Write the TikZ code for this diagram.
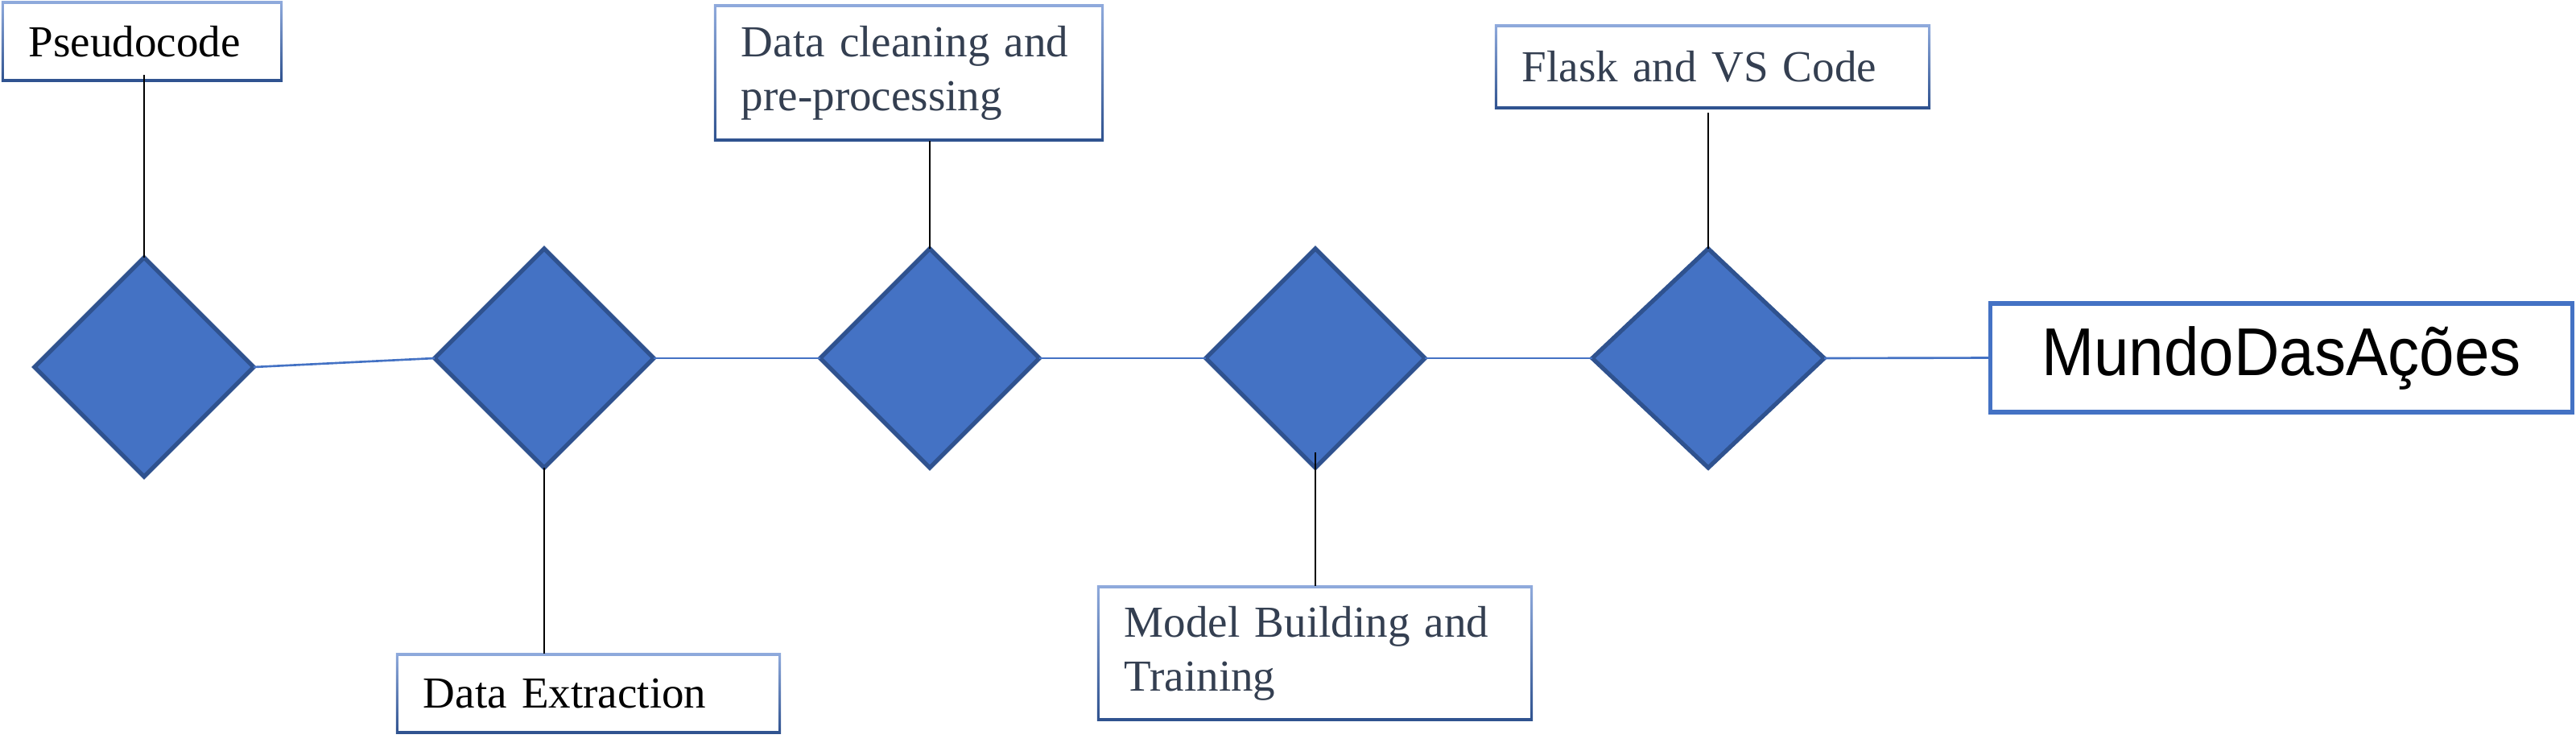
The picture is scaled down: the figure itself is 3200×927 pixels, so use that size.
\documentclass[tikz,border=0pt]{standalone}
\usepackage{fontspec}
\setmainfont{Liberation Serif}
\newfontfamily\arialf{Liberation Sans}
\usetikzlibrary{shapes.geometric}
\definecolor{gtop}{HTML}{8FAADC}
\definecolor{gmid}{HTML}{4472C4}
\definecolor{gbot}{HTML}{2F528F}
\definecolor{dfill}{HTML}{4472C4}
\definecolor{dline}{HTML}{2F528F}
\definecolor{slate}{HTML}{343F51}
\tikzset{
  dia/.style={diamond, draw=dline, fill=dfill, line width=1.5pt, inner sep=0pt, outer sep=0pt,
    minimum width=2.72cm, minimum height=2.72cm},
  gbox/.style={rectangle, top color=gtop, middle color=gmid, bottom color=gbot,
    inner xsep=0.34cm, inner ysep=0pt, outer sep=0pt, align=left,
    font=\fontsize{15.65pt}{19pt}\selectfont,
    path picture={\fill[white] ([shift={(0.035cm,0.035cm)}]path picture bounding box.south west)
      rectangle ([shift={(-0.035cm,-0.035cm)}]path picture bounding box.north east);}},
  hline/.style={draw=dfill, line width=0.75pt},
  vline/.style={draw=black, line width=0.8pt},
  mbox/.style={rectangle, draw=gmid, line width=1.5pt, fill=white, inner sep=0pt, outer sep=0pt}
}
\begin{document}
\begin{tikzpicture}[x=0.01cm, y=-0.01cm]
\useasboundingbox[fill=white] (0,0) rectangle (3200,927);
% diamonds
\node[dia] (d1) at (179,456) {};
\node[dia] (d2) at (676,445) {};
\node[dia] (d3) at (1155,445) {};
\node[dia] (d4) at (1634,445) {};
\node[dia, minimum width=2.88cm] (d5) at (2122,445) {};
% boxes
\node[gbox, text=black, text width=2.81cm, minimum height=0.99cm] (ps) at (176.5,51.5) {Pseudocode};
\node[gbox, text=black, text width=4.10cm, minimum height=0.99cm] (de) at (731,861.5) {Data Extraction};
\node[gbox, text=slate, text width=4.16cm, minimum height=1.69cm] (dc) at (1129,90.5) {Data cleaning and\\pre-processing};
\node[gbox, text=slate, text width=4.73cm, minimum height=1.67cm] (mb) at (1633.5,811.5) {Model Building and\\Training};
\node[gbox, text=slate, text width=4.73cm, minimum height=1.04cm] (fl) at (2127.5,83) {Flask and VS Code};
\node[mbox, minimum width=7.22cm, minimum height=1.35cm] (mu) at (2834,444.5)
  {\arialf\fontsize{23.9pt}{28pt}\selectfont\scalebox{0.93}[1]{MundoDasAções}};
% horizontal connectors
\draw[hline] (d1.east) -- (d2.west);
\draw[hline] (d2.east) -- (d3.west);
\draw[hline] (d3.east) -- (d4.west);
\draw[hline] (d4.east) -- (d5.west);
\draw[hline] (d5.east) -- (mu.west);
% vertical connectors
\draw[vline] ([yshift=0.08cm]d1.north |- ps.south) -- (d1.north);
\draw[vline] (d2.south) -- (d2.south |- de.north);
\draw[vline] (d3.north |- dc.south) -- (d3.north);
\draw[vline] ([yshift=0.19cm]d4.south) -- (d4.south |- mb.north);
\draw[vline] ([yshift=-0.05cm]d5.north |- fl.south) -- (d5.north);
\end{tikzpicture}
\end{document}
